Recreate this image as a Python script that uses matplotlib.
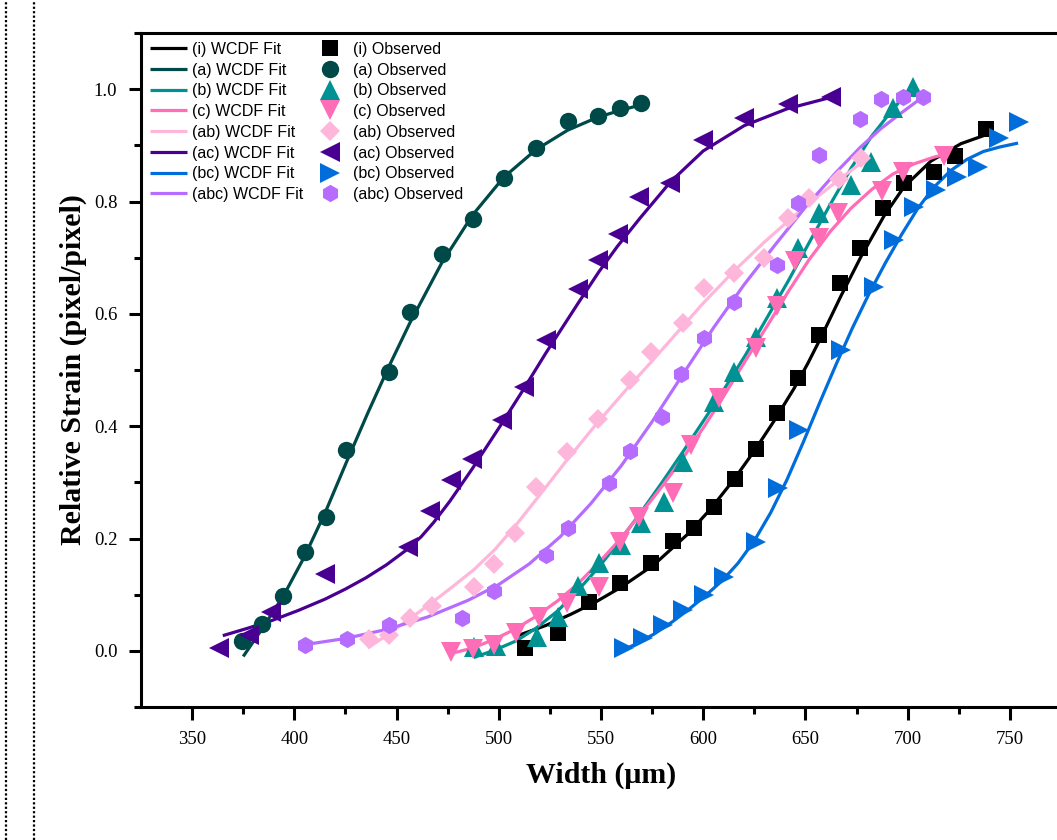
import matplotlib
matplotlib.use("Agg")
import matplotlib.pyplot as plt
from matplotlib.lines import Line2D

# ---------------- data ----------------
series_names = ["(i)", "(a)", "(b)", "(c)", "(ab)", "(ac)", "(bc)", "(abc)"]
colors = ["#000000", "#004949", "#009292", "#ff6db6", "#ffb6db", "#490092", "#006ddb", "#b66dff"]
markers = ["s", "o", "^", "v", "D", "<", ">", "h"]

obs_i_x = [512.7, 528.8, 544.0, 559.2, 574.4, 585.1, 595.4, 605.2, 615.5, 625.8, 636.1, 646.4, 656.6, 666.9, 676.7, 687.9, 698.2, 712.9, 723.2, 738.3]
obs_i_y = [0.005, 0.032, 0.087, 0.121, 0.157, 0.196, 0.219, 0.256, 0.306, 0.359, 0.423, 0.486, 0.562, 0.655, 0.717, 0.788, 0.833, 0.852, 0.881, 0.929]
fit_i_x = [509.2, 522.9, 535.2, 547.4, 559.7, 575.8, 592.5, 603.7, 615.0, 624.8, 634.6, 644.4, 651.2, 657.6, 667.4, 677.2, 688.4, 698.2, 711.4, 726.1, 740.8]
fit_i_y = [0.027, 0.045, 0.065, 0.087, 0.113, 0.153, 0.208, 0.253, 0.305, 0.355, 0.409, 0.467, 0.512, 0.558, 0.632, 0.702, 0.774, 0.826, 0.872, 0.903, 0.922]

obs_a_x = [374.6, 384.4, 394.7, 405.0, 415.3, 425.5, 446.1, 456.4, 472.0, 487.2, 502.4, 518.1, 533.7, 548.4, 559.2, 569.5]
obs_a_y = [0.018, 0.048, 0.098, 0.176, 0.238, 0.358, 0.496, 0.603, 0.706, 0.769, 0.842, 0.895, 0.943, 0.952, 0.966, 0.975]
fit_a_x = [375.0, 384.4, 394.7, 405.0, 415.3, 425.5, 436.0, 446.1, 456.4, 472.0, 487.2, 502.4, 518.1, 533.7, 548.4, 559.2, 569.5]
fit_a_y = [-0.010, 0.040, 0.098, 0.168, 0.248, 0.336, 0.424, 0.505, 0.583, 0.690, 0.776, 0.843, 0.892, 0.927, 0.950, 0.962, 0.972]

obs_b_x = [487.7, 498.5, 518.5, 528.8, 538.6, 548.9, 559.7, 569.4, 580.7, 590.0, 605.2, 615.0, 625.8, 636.1, 646.4, 656.6, 672.3, 682.1, 692.8, 702.6]
obs_b_y = [0.007, 0.009, 0.025, 0.060, 0.116, 0.157, 0.189, 0.228, 0.265, 0.336, 0.443, 0.496, 0.559, 0.628, 0.717, 0.779, 0.829, 0.870, 0.966, 1.004]
fit_b_x = [487.7, 498.5, 508.7, 518.5, 528.8, 538.6, 548.9, 559.2, 569.4, 579.7, 590.0, 600.4, 610.6, 620.9, 631.2, 641.5, 651.7, 662.0, 672.3, 682.1, 692.5, 700.8]
fit_b_y = [-0.012, 0.002, 0.018, 0.041, 0.071, 0.107, 0.149, 0.196, 0.246, 0.299, 0.354, 0.411, 0.468, 0.528, 0.593, 0.658, 0.726, 0.794, 0.859, 0.915, 0.963, 0.998]

obs_c_x = [476.4, 487.2, 497.5, 508.2, 519.5, 533.2, 548.9, 559.2, 568.5, 585.1, 593.9, 607.6, 625.8, 636.1, 644.9, 656.6, 665.9, 687.5, 697.8, 717.8]
obs_c_y = [-0.002, 0.004, 0.011, 0.032, 0.060, 0.085, 0.114, 0.194, 0.238, 0.281, 0.367, 0.450, 0.539, 0.614, 0.694, 0.735, 0.779, 0.819, 0.852, 0.881]
fit_c_x = [476.4, 487.2, 497.5, 508.2, 518.5, 528.8, 538.6, 548.9, 559.2, 569.4, 579.7, 590.0, 600.4, 610.6, 620.9, 631.2, 641.5, 651.7, 662.0, 672.3, 682.6, 692.8, 703.1, 712.9, 722.7]
fit_c_y = [-0.005, 0.005, 0.020, 0.039, 0.062, 0.089, 0.119, 0.157, 0.198, 0.244, 0.292, 0.343, 0.399, 0.457, 0.518, 0.578, 0.639, 0.696, 0.746, 0.788, 0.822, 0.849, 0.867, 0.879, 0.888]

obs_ab_x = [436.3, 446.1, 456.4, 467.1, 487.7, 497.5, 507.8, 518.1, 533.2, 548.4, 564.1, 574.4, 590.1, 600.4, 615.0, 629.7, 641.5, 651.7, 666.4, 677.2]
obs_ab_y = [0.021, 0.028, 0.059, 0.080, 0.114, 0.155, 0.210, 0.292, 0.354, 0.413, 0.482, 0.532, 0.584, 0.646, 0.673, 0.699, 0.770, 0.806, 0.840, 0.877]
fit_ab_x = [436.0, 446.0, 456.0, 467.0, 477.0, 488.0, 498.0, 508.0, 518.0, 533.0, 548.0, 564.0, 574.0, 590.0, 600.0, 615.0, 630.0, 641.5, 652.0, 666.0, 680.0]
fit_ab_y = [0.005, 0.030, 0.056, 0.085, 0.113, 0.145, 0.180, 0.222, 0.268, 0.338, 0.405, 0.472, 0.512, 0.578, 0.619, 0.676, 0.728, 0.765, 0.797, 0.838, 0.876]

obs_ac_x = [363.0, 378.0, 388.8, 414.8, 455.4, 466.6, 476.4, 486.7, 501.4, 512.2, 522.9, 538.6, 548.4, 558.2, 568.4, 583.6, 599.8, 619.8, 641.4, 662.4]
obs_ac_y = [0.005, 0.028, 0.069, 0.137, 0.185, 0.249, 0.304, 0.342, 0.411, 0.470, 0.553, 0.644, 0.696, 0.742, 0.808, 0.833, 0.909, 0.948, 0.973, 0.986]
fit_ac_x = [365.0, 377.0, 389.0, 402.0, 415.0, 425.0, 435.0, 445.0, 455.0, 462.0, 468.0, 476.0, 487.0, 501.0, 512.0, 523.0, 539.0, 549.0, 558.0, 569.0, 584.0, 600.0, 620.0, 641.0, 662.0]
fit_ac_y = [0.027, 0.040, 0.054, 0.072, 0.092, 0.110, 0.130, 0.153, 0.180, 0.203, 0.228, 0.266, 0.324, 0.402, 0.465, 0.530, 0.620, 0.675, 0.720, 0.770, 0.835, 0.890, 0.935, 0.965, 0.985]

obs_bc_x = [561.1, 570.4, 580.2, 590.0, 600.4, 610.1, 625.8, 636.6, 646.9, 667.4, 683.5, 693.4, 703.1, 713.9, 724.2, 734.4, 744.7, 754.5]
obs_bc_y = [0.005, 0.023, 0.046, 0.073, 0.100, 0.132, 0.194, 0.290, 0.393, 0.536, 0.648, 0.731, 0.790, 0.820, 0.843, 0.861, 0.913, 0.941]
fit_bc_x = [557.0, 567.0, 576.0, 585.0, 593.0, 601.0, 609.0, 617.0, 625.0, 633.0, 641.0, 649.0, 657.0, 665.0, 673.0, 681.0, 689.0, 697.0, 705.0, 713.0, 721.0, 729.0, 737.0, 745.0, 754.0]
fit_bc_y = [-0.005, 0.012, 0.030, 0.052, 0.074, 0.098, 0.124, 0.156, 0.196, 0.246, 0.305, 0.372, 0.442, 0.510, 0.575, 0.635, 0.690, 0.741, 0.788, 0.826, 0.855, 0.875, 0.889, 0.897, 0.904]

obs_abc_x = [405.0, 426.0, 446.1, 481.8, 497.5, 522.9, 533.7, 553.8, 564.1, 579.7, 589.0, 600.4, 615.0, 636.1, 646.4, 656.6, 676.7, 687.0, 697.6, 707.4]
obs_abc_y = [0.011, 0.021, 0.046, 0.059, 0.107, 0.171, 0.219, 0.299, 0.356, 0.416, 0.493, 0.557, 0.621, 0.687, 0.797, 0.883, 0.947, 0.982, 0.986, 0.986]
fit_abc_x = [405.0, 425.0, 445.0, 465.0, 485.0, 500.0, 515.0, 530.0, 545.0, 560.0, 575.0, 590.0, 605.0, 620.0, 635.0, 650.0, 665.0, 677.0, 687.0, 697.0, 707.0]
fit_abc_y = [0.011, 0.022, 0.038, 0.060, 0.090, 0.118, 0.155, 0.203, 0.262, 0.330, 0.408, 0.492, 0.575, 0.652, 0.722, 0.790, 0.852, 0.897, 0.930, 0.958, 0.985]

obs_x = [obs_i_x, obs_a_x, obs_b_x, obs_c_x, obs_ab_x, obs_ac_x, obs_bc_x, obs_abc_x]
obs_y = [obs_i_y, obs_a_y, obs_b_y, obs_c_y, obs_ab_y, obs_ac_y, obs_bc_y, obs_abc_y]
fit_x = [fit_i_x, fit_a_x, fit_b_x, fit_c_x, fit_ab_x, fit_ac_x, fit_bc_x, fit_abc_x]
fit_y = [fit_i_y, fit_a_y, fit_b_y, fit_c_y, fit_ab_y, fit_ac_y, fit_bc_y, fit_abc_y]

x_ticks = [350, 400, 450, 500, 550, 600, 650, 700, 750]
x_minor = [375, 425, 475, 525, 575, 625, 675, 725]
y_ticks = [0.0, 0.2, 0.4, 0.6, 0.8, 1.0]
y_minor = [-0.1, 0.1, 0.3, 0.5, 0.7, 0.9, 1.1]

# ---------------- figure ----------------
W, H = 1057, 840
fig = plt.figure(figsize=(W / 100, H / 100), dpi=100)
ax_left = 141 / W
ax_bottom = 1 - 707 / H
ax_height = (707 - 33) / H
ax_width = (1061 - 141) / W
ax = fig.add_axes([ax_left, ax_bottom, ax_width, ax_height])

serif = ["Liberation Serif", "DejaVu Serif"]
sans = ["Liberation Sans", "DejaVu Sans"]
msizes = {"s": 11, "o": 12.5, "^": 14, "v": 14, "D": 10.5, "<": 14, ">": 14, "h": 12.5}

fit_handles = []
obs_handles = []
for k, name in enumerate(series_names):
    ln, = ax.plot(fit_x[k], fit_y[k], color=colors[k], lw=2.3, solid_capstyle="butt",
                  solid_joinstyle="round", label=f"{name} WCDF Fit", zorder=2)
    mk, = ax.plot(obs_x[k], obs_y[k], linestyle="none", marker=markers[k],
                  markersize=msizes[markers[k]], color=colors[k], markeredgewidth=0,
                  label=f"{name} Observed", zorder=3)
    fit_handles.append(ln)
    obs_handles.append(mk)

ax.set_xlim(325, 775)
ax.set_ylim(-0.1, 1.1)
ax.set_xticks(x_ticks)
ax.set_xticks(x_minor, minor=True)
ax.set_yticks(y_ticks)
ax.set_yticks(y_minor, minor=True)
ax.set_xticklabels([str(v) for v in x_ticks], fontfamily=serif, fontsize=13.5)
ax.set_yticklabels([f"{v:.1f}" for v in y_ticks], fontfamily=serif, fontsize=13.5)

ax.spines["right"].set_visible(False)
for side in ("left", "bottom", "top"):
    ax.spines[side].set_linewidth(2.2)
ax.tick_params(axis="both", which="major", direction="out", length=9, width=2.2, pad=8,
               top=False, right=False)
ax.tick_params(axis="both", which="minor", direction="out", length=5, width=2.2,
               top=False, right=False)

ax.set_xlabel("Width (μm)", fontfamily=serif, fontweight="bold", fontsize=21.5, labelpad=10)
ax.set_ylabel("Relative Strain (pixel/pixel)", fontfamily=serif, fontweight="bold",
              fontsize=21.5, labelpad=5)

leg = ax.legend(handles=fit_handles + obs_handles, ncol=2, loc="upper left",
                bbox_to_anchor=(0.0, 1.0), frameon=False,
                prop={"family": sans, "size": 11.5}, handlelength=2.35,
                handletextpad=0.28, columnspacing=0.5, labelspacing=0.36,
                borderaxespad=0.1, borderpad=0.45)

# dotted vertical guides at the left border
for xp in (5.5, 33.5):
    fig.add_artist(Line2D([xp / W, xp / W], [0, 1], transform=fig.transFigure,
                          color="black", lw=1.6, linestyle=(0, (1, 1))))

fig.savefig("out.png", dpi=100)
